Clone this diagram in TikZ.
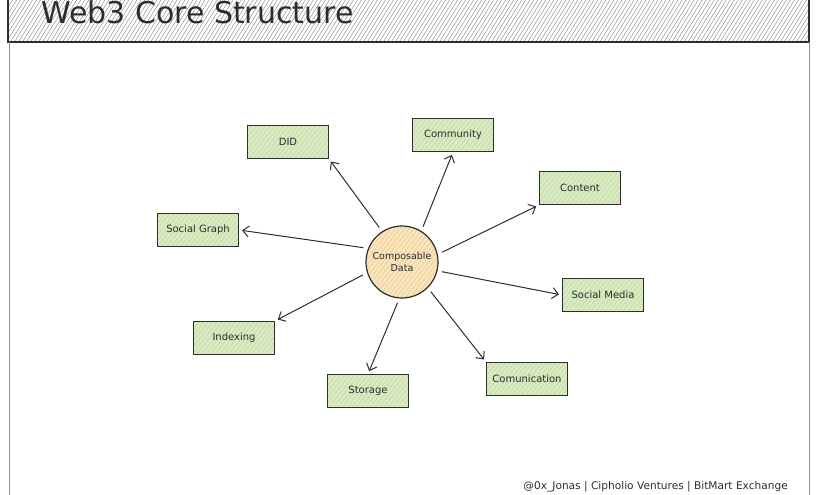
\documentclass[tikz,border=0pt]{standalone}
\usepackage{fontspec}
\setmainfont{DejaVu Sans}
\usetikzlibrary{patterns.meta,arrows.meta}
\definecolor{boxgreen}{RGB}{218,235,195}
\definecolor{hatchgreen}{RGB}{190,214,158}
\definecolor{circfill}{RGB}{250,229,188}
\definecolor{circhatch}{RGB}{230,200,146}
\definecolor{ink}{RGB}{45,45,45}
\definecolor{hdrhatch}{RGB}{155,155,155}
\tikzset{
  box/.style={draw=ink, line width=1.2pt, minimum width=81pt, minimum height=33pt, inner sep=0pt,
    preaction={fill=boxgreen}, pattern={Lines[angle=52,distance=3.6pt,line width=0.55pt]},
    pattern color=hatchgreen, font=\fontsize{10}{12}\selectfont, text=ink},
  hub/.style={circle, draw=ink, line width=1.2pt, minimum size=72pt, inner sep=0pt,
    preaction={fill=circfill}, pattern={Lines[angle=52,distance=3.6pt,line width=0.55pt]},
    pattern color=circhatch, font=\fontsize{9.5}{12}\selectfont, text=ink, align=center},
  conn/.style={draw=ink, line width=1pt, -{Straight Barb[length=6pt,width=11pt,line width=1pt]},
    shorten <=5pt, shorten >=3pt},
}
\begin{document}
\begin{tikzpicture}[x=1pt,y=-1pt]
\useasboundingbox (0,0) rectangle (820,495);
% header
\path[preaction={fill=white}, pattern={Lines[angle=58,distance=3.4pt,line width=0.55pt]}, pattern color=hdrhatch]
  (8,-3) rectangle (809,42);
\draw[ink, line width=1.4pt] (8,-3) -- (8,42) -- (809,42) -- (809,-3);
\node[anchor=base west, font=\fontsize{30}{33}\selectfont, text=ink, inner sep=0pt] (title) at (41,24) {Web3 Core Structure};
% body frame
\draw[black!45, line width=1.3pt] (9.5,42) -- (9.5,495);
\draw[black!45, line width=1.3pt] (809.5,42) -- (809.5,495);
% nodes
\node[hub] (c) at (402,262) {Composable\\Data};
\node[box] (did) at (288,142) {DID};
\node[box] (com) at (453,135) {Community};
\node[box] (sg) at (198,230) {Social Graph};
\node[box] (cont) at (580,188) {Content};
\node[box] (sm) at (603,295) {Social Media};
\node[box] (idx) at (234,338) {Indexing};
\node[box] (sto) at (368,391) {Storage};
\node[box] (comm) at (527,379) {Comunication};
% connectors
\draw[conn] (c.123) -- (did.south east);
\draw[conn] (c.58) -- (com.south);
\draw[conn] (c.158) -- (sg.east);
\draw[conn] (c.12) -- (cont.south west);
\draw[conn] (c.-14) -- (sm.west);
\draw[conn] (c.197) -- (idx.north east);
\draw[conn] (c.266) -- (sto.north);
\draw[conn] (c.-45) -- (comm.north west);
% footer
\node[anchor=base east, font=\fontsize{10.6}{12}\selectfont, text=ink, inner sep=0pt] (foot) at (788,489) {@0x\_Jonas | Cipholio Ventures | BitMart Exchange};
\end{tikzpicture}
\end{document}
